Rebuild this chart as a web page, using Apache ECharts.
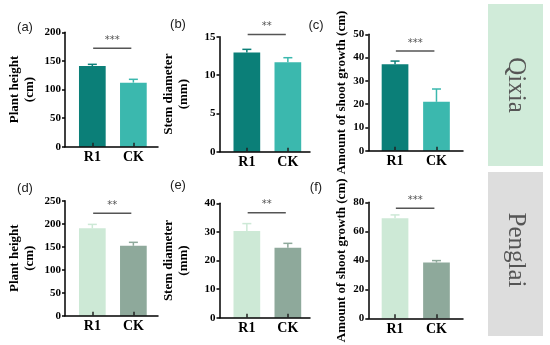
<!DOCTYPE html>
<html><head><meta charset="utf-8">
<script src="https://cdn.jsdelivr.net/npm/echarts@6/dist/echarts.min.js"></script>
<style>html,body{margin:0;padding:0;background:#fff}#c{width:550px;height:345px}</style>
</head><body><div id="c"></div>
<script>
// ---- data ----
const categories = ['R1', 'CK'];
const plantHeightQixia = [141, 112];
const plantHeightQixiaErr = [3, 5.8];
const stemDiameterQixia = [12.95, 11.66];
const stemDiameterQixiaErr = [0.4, 0.6];
const shootGrowthQixia = [37.1, 21.0];
const shootGrowthQixiaErr = [1.4, 5.5];
const plantHeightPenglai = [190, 152];
const plantHeightPenglaiErr = [8.5, 7.5];
const stemDiameterPenglai = [30.3, 24.5];
const stemDiameterPenglaiErr = [2.6, 1.5];
const shootGrowthPenglai = [69, 38.4];
const shootGrowthPenglaiErr = [2.3, 1.4];
const yMaxes = [200, 15, 50, 250, 40, 80];
const yIntervals = [50, 5, 10, 50, 10, 20];
const sigLabels = ['***', '**', '***', '**', '**', '***'];
const sigLevels = [172, 15.3, 42.8, 222.6, 36.7, 75.9];
const yTitles = ['Plant height\n(cm)', 'Stem diameter\n(mm)', 'Amount of shoot growth (cm)',
                 'Plant height\n(cm)', 'Stem diameter\n(mm)', 'Amount of shoot growth (cm)'];
const panelTags = ['(a)', '(b)', '(c)', '(d)', '(e)', '(f)'];
const siteNames = ['Qixia', 'Penglai'];

// ---- styling / layout ----
const means = [plantHeightQixia, stemDiameterQixia, shootGrowthQixia, plantHeightPenglai, stemDiameterPenglai, shootGrowthPenglai];
const errs = [plantHeightQixiaErr, stemDiameterQixiaErr, shootGrowthQixiaErr, plantHeightPenglaiErr, stemDiameterPenglaiErr, shootGrowthPenglaiErr];
const rowColors = [['#0b7f78', '#3bb8ae'], ['#cde9d6', '#8ea99b']];
const cols = [
  {left: 65, right: 158, xmin: 0.334, xmax: 2.60, nameGap: 28},
  {left: 219.5, right: 310, xmin: 0.333, xmax: 2.54, nameGap: 28},
  {left: 368.3, right: 463, xmin: 0.355, xmax: 2.64, nameGap: 19}
];
const rowsY = [[32.3, 146.7], [36.7, 151.7], [34.3, 150.7], [200.7, 315.7], [203.3, 317.7], [202.3, 318.3]];
const serif = "'Liberation Serif','Times New Roman',serif";

const grids = [], xAxes = [], yAxes = [], series = [];
for (let i = 0; i < 6; i++) {
  const c = cols[i % 3], r = Math.floor(i / 3);
  const colors = rowColors[r];
  grids.push({left: c.left, top: rowsY[i][0], width: c.right - c.left, height: rowsY[i][1] - rowsY[i][0]});
  xAxes.push({
    gridIndex: i, type: 'value', min: c.xmin, max: c.xmax, z: 5,
    splitLine: {show: false},
    axisLine: {show: true, onZero: false, lineStyle: {color: '#000', width: 1.5}},
    axisTick: {show: true, inside: true, length: 4, customValues: [1, 2], lineStyle: {color: '#222', width: 1.5}},
    axisLabel: {customValues: [1, 2], formatter: v => categories[Math.round(v) - 1] || '',
      fontFamily: serif, fontWeight: 'bold', fontSize: 14, color: '#000', margin: 4}
  });
  yAxes.push({
    gridIndex: i, type: 'value', min: 0, max: yMaxes[i], interval: yIntervals[i],
    splitLine: {show: false},
    axisLine: {show: true, lineStyle: {color: '#000', width: 1.5}},
    axisTick: {show: true, length: 3, lineStyle: {color: '#000', width: 1.5}},
    axisLabel: {fontFamily: serif, fontWeight: 'bold', fontSize: 11, color: '#000', margin: 4},
    name: yTitles[i], nameLocation: 'middle', nameRotate: 90, nameGap: c.nameGap,
    nameTextStyle: {fontFamily: serif, fontWeight: 'bold', fontSize: 13, lineHeight: 15, color: '#000'}
  });
  series.push({
    type: 'bar', xAxisIndex: i, yAxisIndex: i, barWidth: 26.7,
    data: means[i].map((v, k) => ({value: [k + 1, v], itemStyle: {color: colors[k]}}))
  });
  series.push({
    type: 'custom', xAxisIndex: i, yAxisIndex: i, z: 4,
    encode: {x: 0, y: 1},
    data: means[i].map((v, k) => [k + 1, v, errs[i][k]]),
    renderItem: (params, api) => {
      const x = api.value(0), m = api.value(1), e = api.value(2);
      const p0 = api.coord([x, m]), p1 = api.coord([x, m + e]);
      const col = colors[params.dataIndex];
      return {type: 'group', children: [
        {type: 'line', shape: {x1: p0[0], y1: p0[1], x2: p1[0], y2: p1[1]}, style: {stroke: col, lineWidth: 1.5}},
        {type: 'line', shape: {x1: p1[0] - 4.5, y1: p1[1], x2: p1[0] + 4.5, y2: p1[1]}, style: {stroke: col, lineWidth: 1.5}}
      ]};
    }
  });
  series.push({
    type: 'custom', xAxisIndex: i, yAxisIndex: i, z: 4, clip: false,
    encode: {x: 0, y: 2},
    data: [[1.02, 1.95, sigLevels[i]]],
    renderItem: (params, api) => {
      const a = api.coord([api.value(0), api.value(2)]);
      const b = api.coord([api.value(1), api.value(2)]);
      return {type: 'group', children: [
        {type: 'line', shape: {x1: a[0], y1: a[1], x2: b[0], y2: b[1]}, style: {stroke: '#555', lineWidth: 1.5}},
        {type: 'text', style: {text: sigLabels[i], x: (a[0] + b[0]) / 2, y: a[1] - 8, align: 'center', verticalAlign: 'middle',
          fontSize: 10, fontFamily: "'DejaVu Sans',sans-serif", fill: '#555'}}
      ]};
    }
  });
}

const tagPos = [[25, 27], [178, 24], [316, 25], [25, 188], [178, 185], [316, 187]];
const graphic = [];
panelTags.forEach((t, i) => graphic.push({type: 'text', x: tagPos[i][0], y: tagPos[i][1],
  style: {text: t, align: 'center', verticalAlign: 'middle', fontSize: 13, fontFamily: "'Liberation Sans',Arial,sans-serif", fill: '#222'}}));
const boxes = [{y: 4, h: 162, fill: '#d0ebd9'}, {y: 172, h: 164, fill: '#dddddd'}];
boxes.forEach((b, k) => {
  graphic.push({type: 'rect', shape: {x: 488, y: b.y, width: 55, height: b.h}, style: {fill: b.fill}});
  graphic.push({type: 'text', x: 515.5, y: b.y + b.h / 2 - (k === 0 ? 0 : 4), rotation: -Math.PI / 2,
    style: {text: siteNames[k], align: 'center', verticalAlign: 'middle', fontSize: 25, fontFamily: serif, fill: '#555'}});
});

const chart = echarts.init(document.getElementById('c'), null, {renderer: 'canvas'});
chart.setOption({animation: false, grid: grids, xAxis: xAxes, yAxis: yAxes, series: series, graphic: graphic});
</script></body></html>
